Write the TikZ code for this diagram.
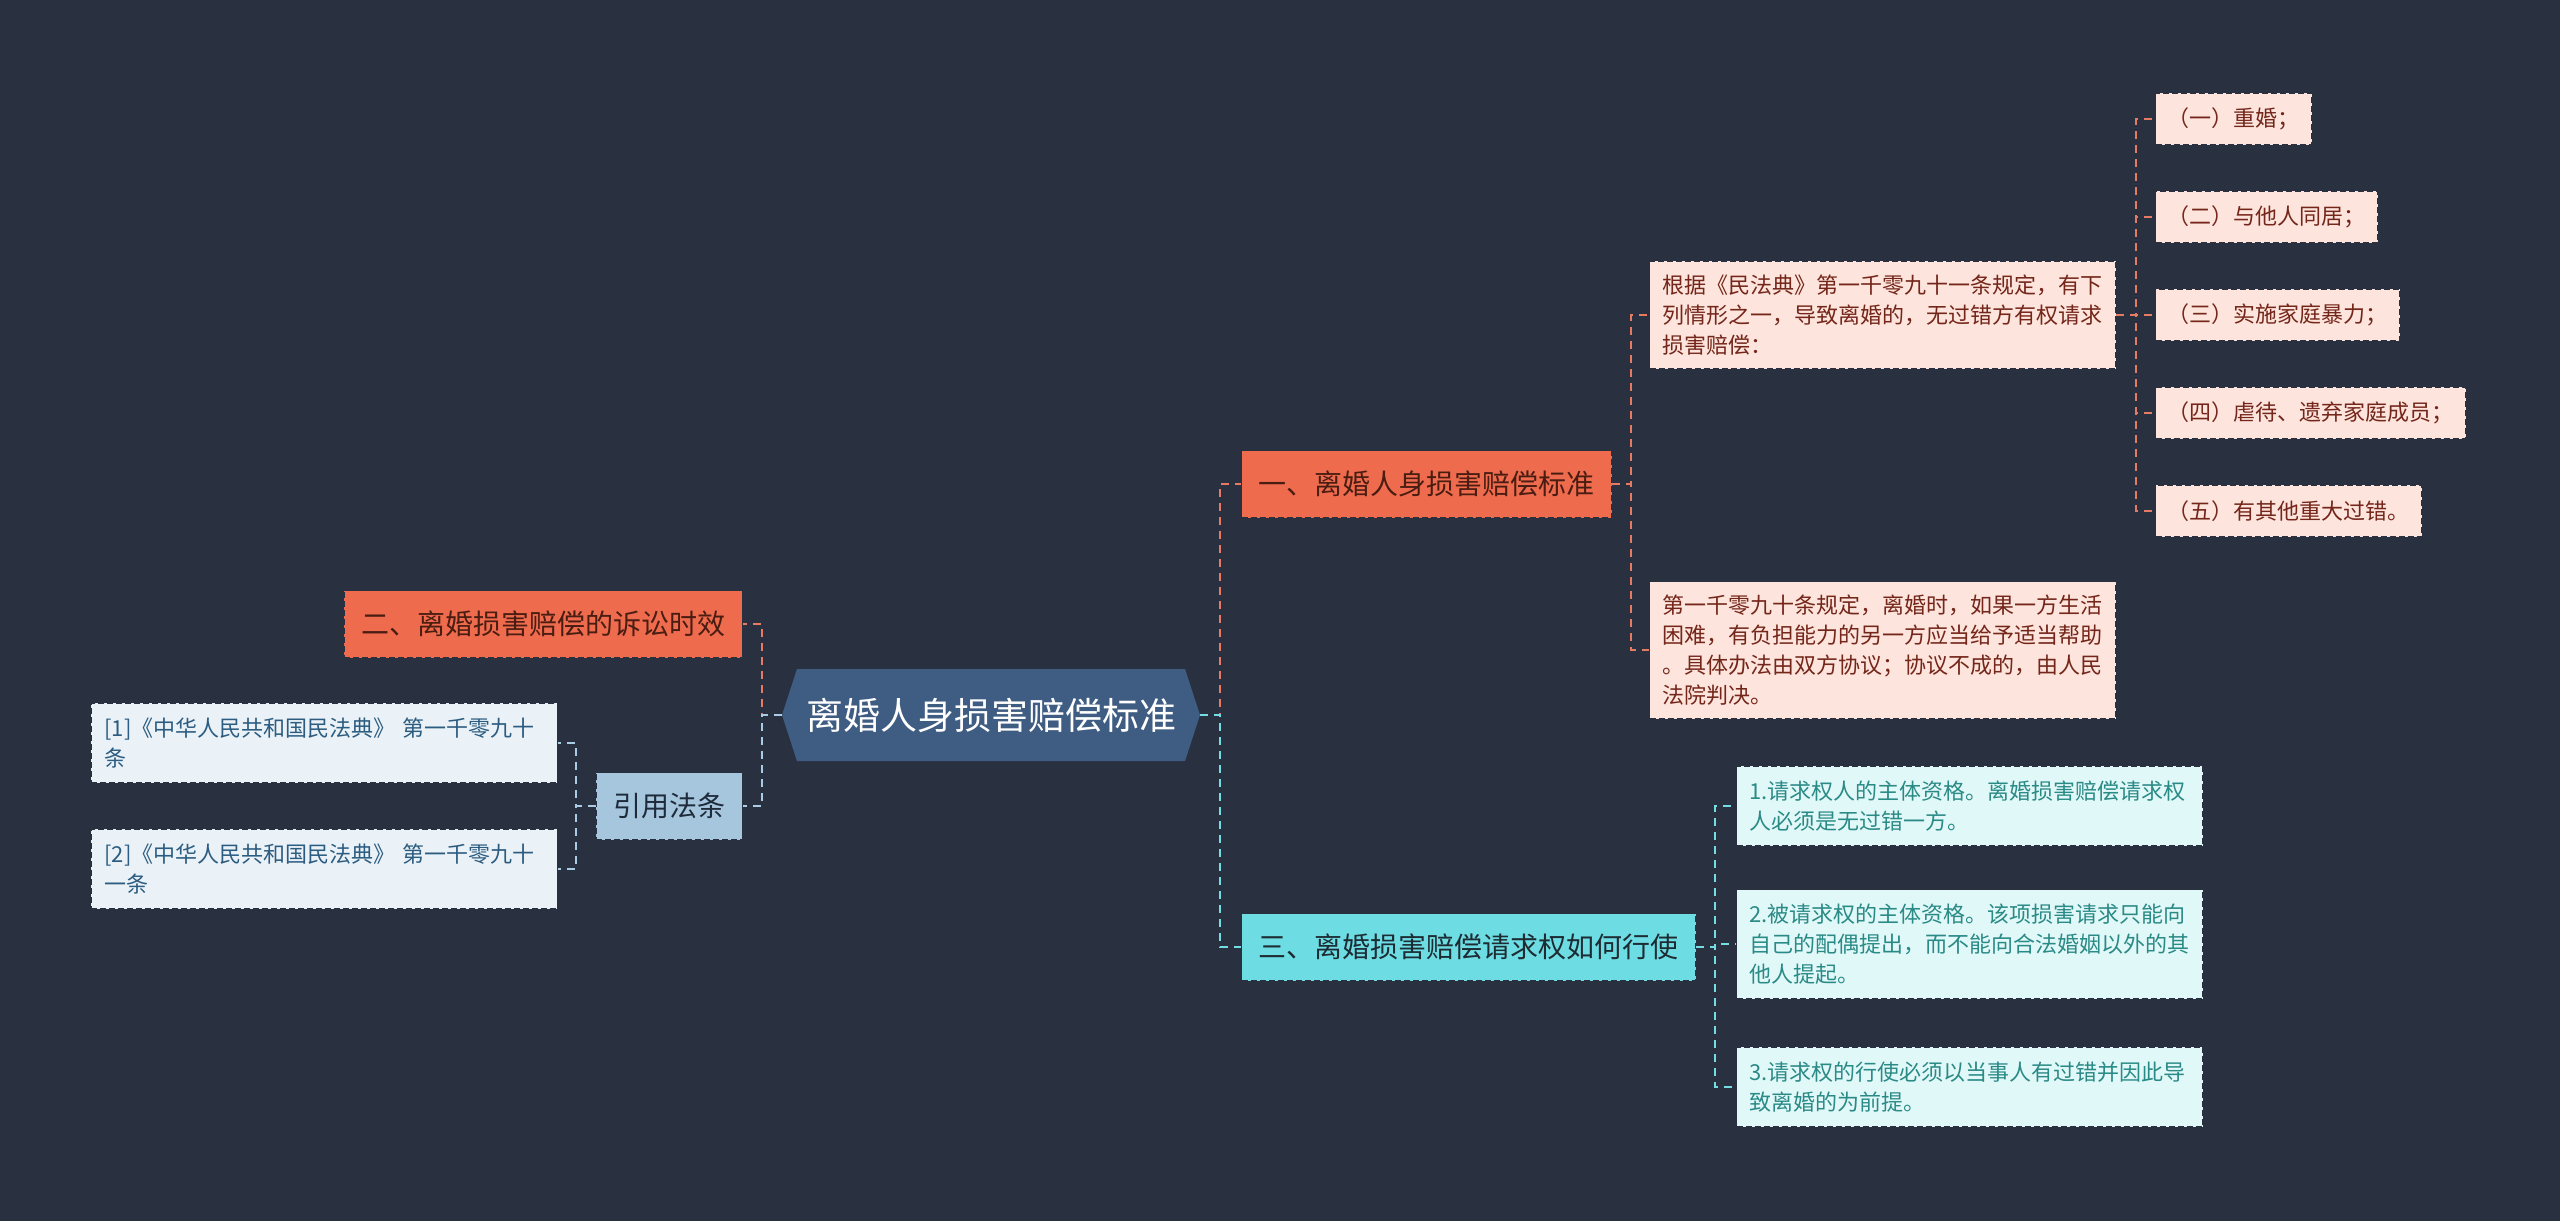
\documentclass[tikz,border=0pt]{standalone}
\usepackage{fontspec}
\setmainfont{Noto Sans CJK SC}
\usepackage{xcolor}
\usetikzlibrary{shapes.symbols}

\definecolor{bgcol}{HTML}{29303F}
\definecolor{rootfill}{HTML}{3F5C82}
\definecolor{orfill}{HTML}{EF6B4D}
\definecolor{ortext}{HTML}{4A1D12}
\definecolor{pkfill}{HTML}{FDE4DC}
\definecolor{pktext}{HTML}{74261A}
\definecolor{cyfill}{HTML}{6EDDE3}
\definecolor{cytext}{HTML}{1D2B33}
\definecolor{lcfill}{HTML}{E1F8F8}
\definecolor{lctext}{HTML}{2A8A86}
\definecolor{bufill}{HTML}{A6C6DE}
\definecolor{butext}{HTML}{1E2B3A}
\definecolor{lbfill}{HTML}{EAF2F8}
\definecolor{lbtext}{HTML}{2C5C80}
\definecolor{orline}{HTML}{E77A63}
\definecolor{buline}{HTML}{A9CBE4}
\definecolor{cyline}{HTML}{74DCE3}

\begin{document}
\begin{tikzpicture}[
    x=1pt, y=-1pt,
    root/.style={signal, signal to=east and west, signal pointer angle=144,
                 fill=rootfill, text=white, minimum width=418pt, minimum height=92pt,
                 inner sep=0pt, font=\fontsize{37}{44}\selectfont},
    box/.style={draw=bgcol, dash pattern=on 6pt off 3pt, line width=1.2pt,
                inner xsep=17pt, inner ysep=0pt, minimum height=67pt,
                font=\fontsize{28}{34}\selectfont},
    leaf/.style={draw=bgcol, dash pattern=on 6pt off 3pt, line width=1.2pt,
                 inner xsep=12pt, inner ysep=0pt, minimum height=52pt,
                 font=\fontsize{22}{30}\selectfont},
    note/.style={leaf, text width=440pt, align=left, inner xsep=13pt, inner ysep=12pt},
    link/.style={line width=2pt, dash pattern=on 8pt off 6pt},
    olink/.style={link, draw=orline},
    blink/.style={link, draw=buline},
    clink/.style={link, draw=cyline}
  ]
  \fill[bgcol] (0,0) rectangle (2560,1221);
  \useasboundingbox (0,0) rectangle (2560,1221);

  \node[root] (root) at (991,715) {离婚人身损害赔偿标准};

  \node[box, fill=orfill, text=ortext, anchor=east] (two) at (743,624) {二、离婚损害赔偿的诉讼时效};
  \node[box, fill=bufill, text=butext, anchor=east] (cite) at (743,806) {引用法条};
  \node[note, fill=lbfill, text=lbtext, anchor=east, minimum height=80pt] (r1) at (558,743)
    {[1]《中华人民共和国民法典》 第一千零九十\\条};
  \node[note, fill=lbfill, text=lbtext, anchor=east, minimum height=80pt] (r2) at (558,869)
    {[2]《中华人民共和国民法典》 第一千零九十\\一条};

  \node[box, fill=orfill, text=ortext, anchor=west] (one) at (1241,484) {一、离婚人身损害赔偿标准};
  \node[note, fill=pkfill, text=pktext, anchor=west, minimum height=108pt] (a1) at (1649,315)
    {根据《民法典》第一千零九十一条规定，有下\\列情形之一，导致离婚的，无过错方有权请求\\损害赔偿：};
  \node[note, fill=pkfill, text=pktext, anchor=west, minimum height=137pt] (a2) at (1649,650)
    {第一千零九十条规定，离婚时，如果一方生活\\困难，有负担能力的另一方应当给予适当帮助\\。具体办法由双方协议；协议不成的，由人民\\法院判决。};
  \node[leaf, fill=pkfill, text=pktext, anchor=west] (b1) at (2155,119) {（一）重婚；};
  \node[leaf, fill=pkfill, text=pktext, anchor=west] (b2) at (2155,217) {（二）与他人同居；};
  \node[leaf, fill=pkfill, text=pktext, anchor=west] (b3) at (2155,315) {（三）实施家庭暴力；};
  \node[leaf, fill=pkfill, text=pktext, anchor=west] (b4) at (2155,413) {（四）虐待、遗弃家庭成员；};
  \node[leaf, fill=pkfill, text=pktext, anchor=west] (b5) at (2155,511) {（五）有其他重大过错。};

  \node[box, fill=cyfill, text=cytext, anchor=west] (three) at (1241,947) {三、离婚损害赔偿请求权如何行使};
  \node[note, fill=lcfill, text=lctext, anchor=west, minimum height=80pt] (c1) at (1736,806)
    {1.请求权人的主体资格。离婚损害赔偿请求权\\人必须是无过错一方。};
  \node[note, fill=lcfill, text=lctext, anchor=west, minimum height=109pt] (c2) at (1736,944)
    {2.被请求权的主体资格。该项损害请求只能向\\自己的配偶提出，而不能向合法婚姻以外的其\\他人提起。};
  \node[note, fill=lcfill, text=lctext, anchor=west, minimum height=80pt] (c3) at (1736,1087)
    {3.请求权的行使必须以当事人有过错并因此导\\致离婚的为前提。};

  \draw[olink] (root.west) -- ++(-20,0) |- (two.east);
  \draw[blink] (root.west) -- ++(-20,0) |- (cite.east);
  \draw[olink] (root.east) -- ++(20,0) |- (one.west);
  \draw[clink] (root.east) -- ++(20,0) |- (three.west);
  \foreach \n in {r1,r2}
    \draw[blink] (cite.west) -- ++(-20,0) |- (\n.east);
  \foreach \n in {a1,a2}
    \draw[olink] (one.east) -- ++(19,0) |- (\n.west);
  \foreach \i in {1,...,5}
    \draw[olink] (a1.east) -- ++(20,0) |- (b\i.west);
  \foreach \n in {c1,c2,c3}
    \draw[clink] (three.east) -- ++(19,0) |- (\n.west);
\end{tikzpicture}
\end{document}
